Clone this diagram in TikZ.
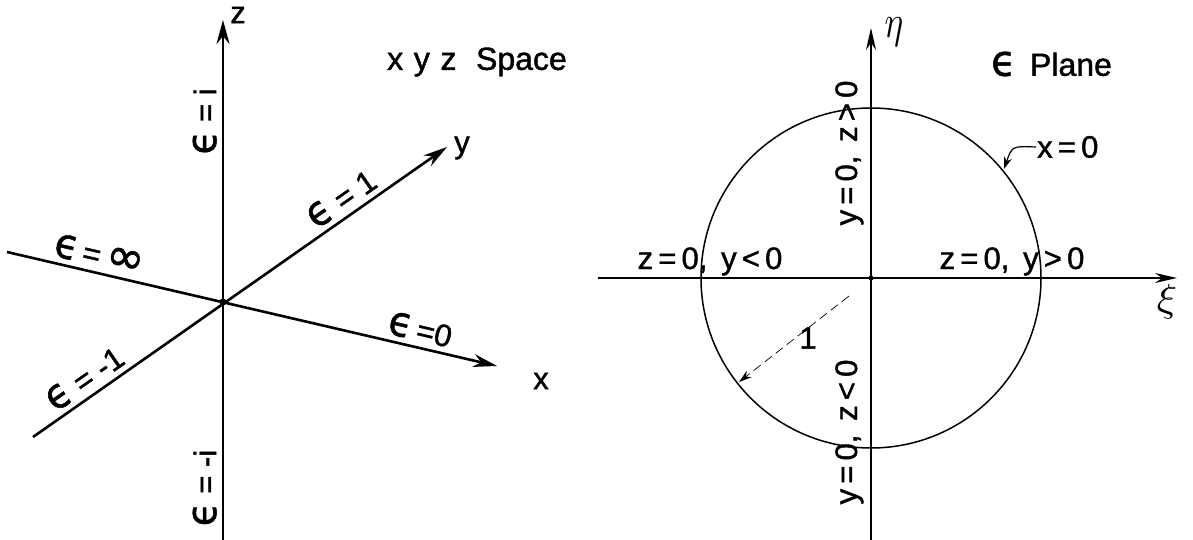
\documentclass[tikz,border=0pt]{standalone}
\usepackage{fontspec}
\usepackage{graphicx}
\setmainfont{Liberation Sans}[FakeBold=1.3]
\newfontfamily\epsfont{DejaVu Sans}[FakeBold=1.2]
\usetikzlibrary{arrows.meta}
\newcommand\eps{{\epsfont\scalebox{1.25}[1.35]{ϵ}}}
\begin{document}
\begin{tikzpicture}[x=1pt,y=-1pt,
  axisarrow/.style={line width=2.6pt,-{Stealth[length=24pt,width=13pt]}},
  thinarrow/.style={line width=1.8pt,-{Stealth[length=22pt,width=10pt]}},
  lab/.style={font=\fontsize{31}{33}\selectfont, inner sep=1pt},
  ttl/.style={font=\fontsize{32}{34}\selectfont, inner sep=1pt, anchor=west},
  rlab/.style={font=\fontsize{31}{33}\selectfont, inner sep=1pt}]
\useasboundingbox (0,0) rectangle (1193,540);
% ---------- left: xyz space ----------
\coordinate (O) at (223,302);
\coordinate (ztop) at (223,20);
\coordinate (zbot) at (223,540);
\coordinate (ytip) at (447,147);
\coordinate (ym) at (33,437);
\coordinate (xtip) at (497,366);
\coordinate (xm) at (7,252);
\draw[axisarrow] (zbot) -- (ztop)
  node[lab, pos=0.805, sloped, above=4pt] (ei) {\eps\ =\ i}
  node[lab, pos=0.10, sloped, above=4pt] (emi) {\eps\ =\ -i};
\draw[axisarrow] (ym) -- (ytip)
  node[lab, pos=0.77, sloped, above=4pt] (e1) {\eps\ =\ 1}
  node[lab, pos=0.15, sloped, above=4pt] (em1) {\eps\ =\ -1};
\draw[axisarrow] (xm) -- (xtip)
  node[lab, pos=0.18, sloped, above=4pt] (einf) {\eps\,=\,{\epsfont\scalebox{1.5}{∞}}}
  node[lab, pos=0.835, sloped, above=4pt] (e0) {\eps\,=0};
\fill (O) circle (3.5);
\node[lab] (zl) at (238,15) {z};
\node[lab] (yl) at (462,148) {y};
\node[lab] (xl) at (541,381) {x};
\node[ttl] (t1) at (386,62) {x\,\,y\,\,z\,\, Space};
% ---------- right: epsilon plane ----------
\coordinate (C) at (871,278);
\coordinate (etop) at (871,28);
\coordinate (ebot) at (871,540);
\coordinate (xileft) at (598,278);
\coordinate (xiright) at (1177,278);
\draw[thinarrow] (ebot) -- (etop);
\draw[thinarrow] (xileft) -- (xiright);
\draw[line width=1.5pt] (C) circle[radius=170];
\fill (C) circle (2.5);
\node[inner sep=0pt] (eta) at (894,32) {\scalebox{3.5}[4.6]{$\eta$}};
\node[inner sep=0pt] (xi) at (1167,302) {\scalebox{4.2}[3.9]{$\xi$}};
\node[ttl] (t2) at (990,64) {\eps\, Plane};
\node[rlab, rotate=90, anchor=base] (ypos) at (857,153) {y\,=\,0,\, z\,>\,0};
\node[rlab, rotate=90, anchor=base] (yneg) at (857,432) {y\,=\,0,\, z\,<\,0};
\node[rlab, anchor=base] (zneg) at (710,269) {z\,=\,0,\, y\,<\,0};
\node[rlab, anchor=base] (zpos) at (1012,269) {z\,=\,0,\, y\,>\,0};
\node[rlab, anchor=west] (x0) at (1036,147) {x\,=\,0};
\coordinate (x0tip) at (1004,169);
\draw[line width=1.2pt,-{Stealth[length=12pt,width=8pt]}] (x0.west) .. controls (1012,146) .. (x0tip);
\coordinate (rs) at (849,296);
\coordinate (rtip) at (739,382);
\draw[line width=0.7pt, dash pattern=on 9pt off 5pt,-{Stealth[length=13pt,width=8pt]}] (rs) -- (rtip);
\node[rlab] (one) at (808,338) {1};
\end{tikzpicture}
\end{document}
